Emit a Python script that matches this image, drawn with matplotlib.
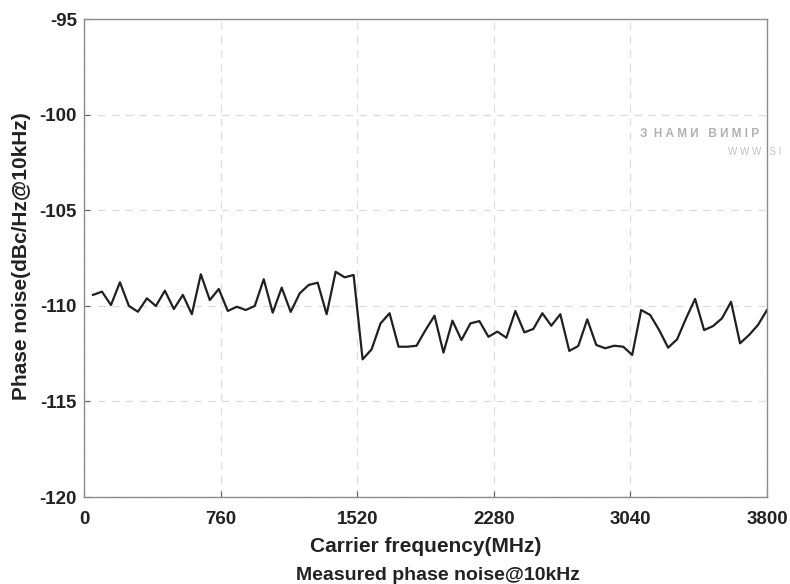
import numpy as np
import matplotlib
matplotlib.use('Agg')
import matplotlib.pyplot as plt

# carrier frequency (MHz) and measured phase noise @10kHz (dBc/Hz)
freq_mhz = list(range(50, 3801, 50))
phase_noise = [
    -109.43, -109.26, -109.96, -108.77, -110.01, -110.31, -109.61, -110.01,
    -109.21, -110.17, -109.43, -110.44, -108.35, -109.70, -109.12, -110.27,
    -110.05, -110.22, -110.01, -108.61, -110.36, -109.05, -110.32, -109.35,
    -108.91, -108.79, -110.44, -108.22, -108.51, -108.39,
    -112.80, -112.28, -110.92, -110.39, -112.14, -112.14, -112.09, -111.27,
    -110.52, -112.45, -110.78, -111.79, -110.92, -110.80, -111.62, -111.35,
    -111.67, -110.27, -111.39, -111.21, -110.39, -111.04, -110.44, -112.36,
    -112.10, -110.71, -112.05, -112.22, -112.09, -112.14, -112.57, -110.22,
    -110.48, -111.27, -112.19, -111.75, -110.65, -109.64, -111.27, -111.06,
    -110.65, -109.79, -111.96, -111.53, -111.00, -110.22,
]
x_ticks = [0, 760, 1520, 2280, 3040, 3800]
y_ticks = [-120, -115, -110, -105, -100, -95]

plt.rcParams['font.family'] = ['Liberation Sans', 'DejaVu Sans']
plt.rcParams['axes.unicode_minus'] = False

fig = plt.figure(figsize=(7.9, 5.84), dpi=100)
ax = fig.add_axes([84/790, 1-497/584, (767-84)/790, (497-19)/584])

ax.plot(freq_mhz, phase_noise, color='#202020', lw=1.6)

ax.set_xlim(0, 3800)
ax.set_ylim(-120, -95)
ax.set_xticks(x_ticks)
ax.set_yticks(y_ticks)
ax.grid(True, ls=(0, (6, 5)), color='#dcdcdc', lw=0.9)
ax.tick_params(direction='in', length=4, color='#606060', labelsize=13.5,
               labelcolor='#222222')
ax.tick_params(axis='x', pad=10)
ax.tick_params(axis='y', pad=5)
for lab in ax.get_xticklabels() + ax.get_yticklabels():
    lab.set_fontweight('bold')
for s in ax.spines.values():
    s.set_color('#8c8c8c')
    s.set_linewidth(1.0)

# axis labels and caption
fig.text(426/790, 1-547/584, 'Carrier frequency(MHz)', fontsize=15, fontweight='bold',
         ha='center', va='center', color='#222222')
fig.text(22/790, 1-256/584, 'Phase noise(dBc/Hz@10kHz)', fontsize=15, fontweight='bold',
         rotation=90, ha='center', va='center', color='#222222')
fig.text(438/790, 1-575/584, 'Measured phase noise@10kHz', fontsize=14, fontweight='bold',
         ha='center', va='center', color='#222222')

# watermark remnant in the corner
fig.text(640/790, 1-134/584, 'З  Н А М И   В И М І Р', fontsize=8.5, color='#b0b0b0',
         fontweight='bold', ha='left', va='center')
fig.text(728/790, 1-152/584, 'W W W . S I', fontsize=7, color='#c0c0c0',
         ha='left', va='center')

fig.savefig('out.png', dpi=100)
